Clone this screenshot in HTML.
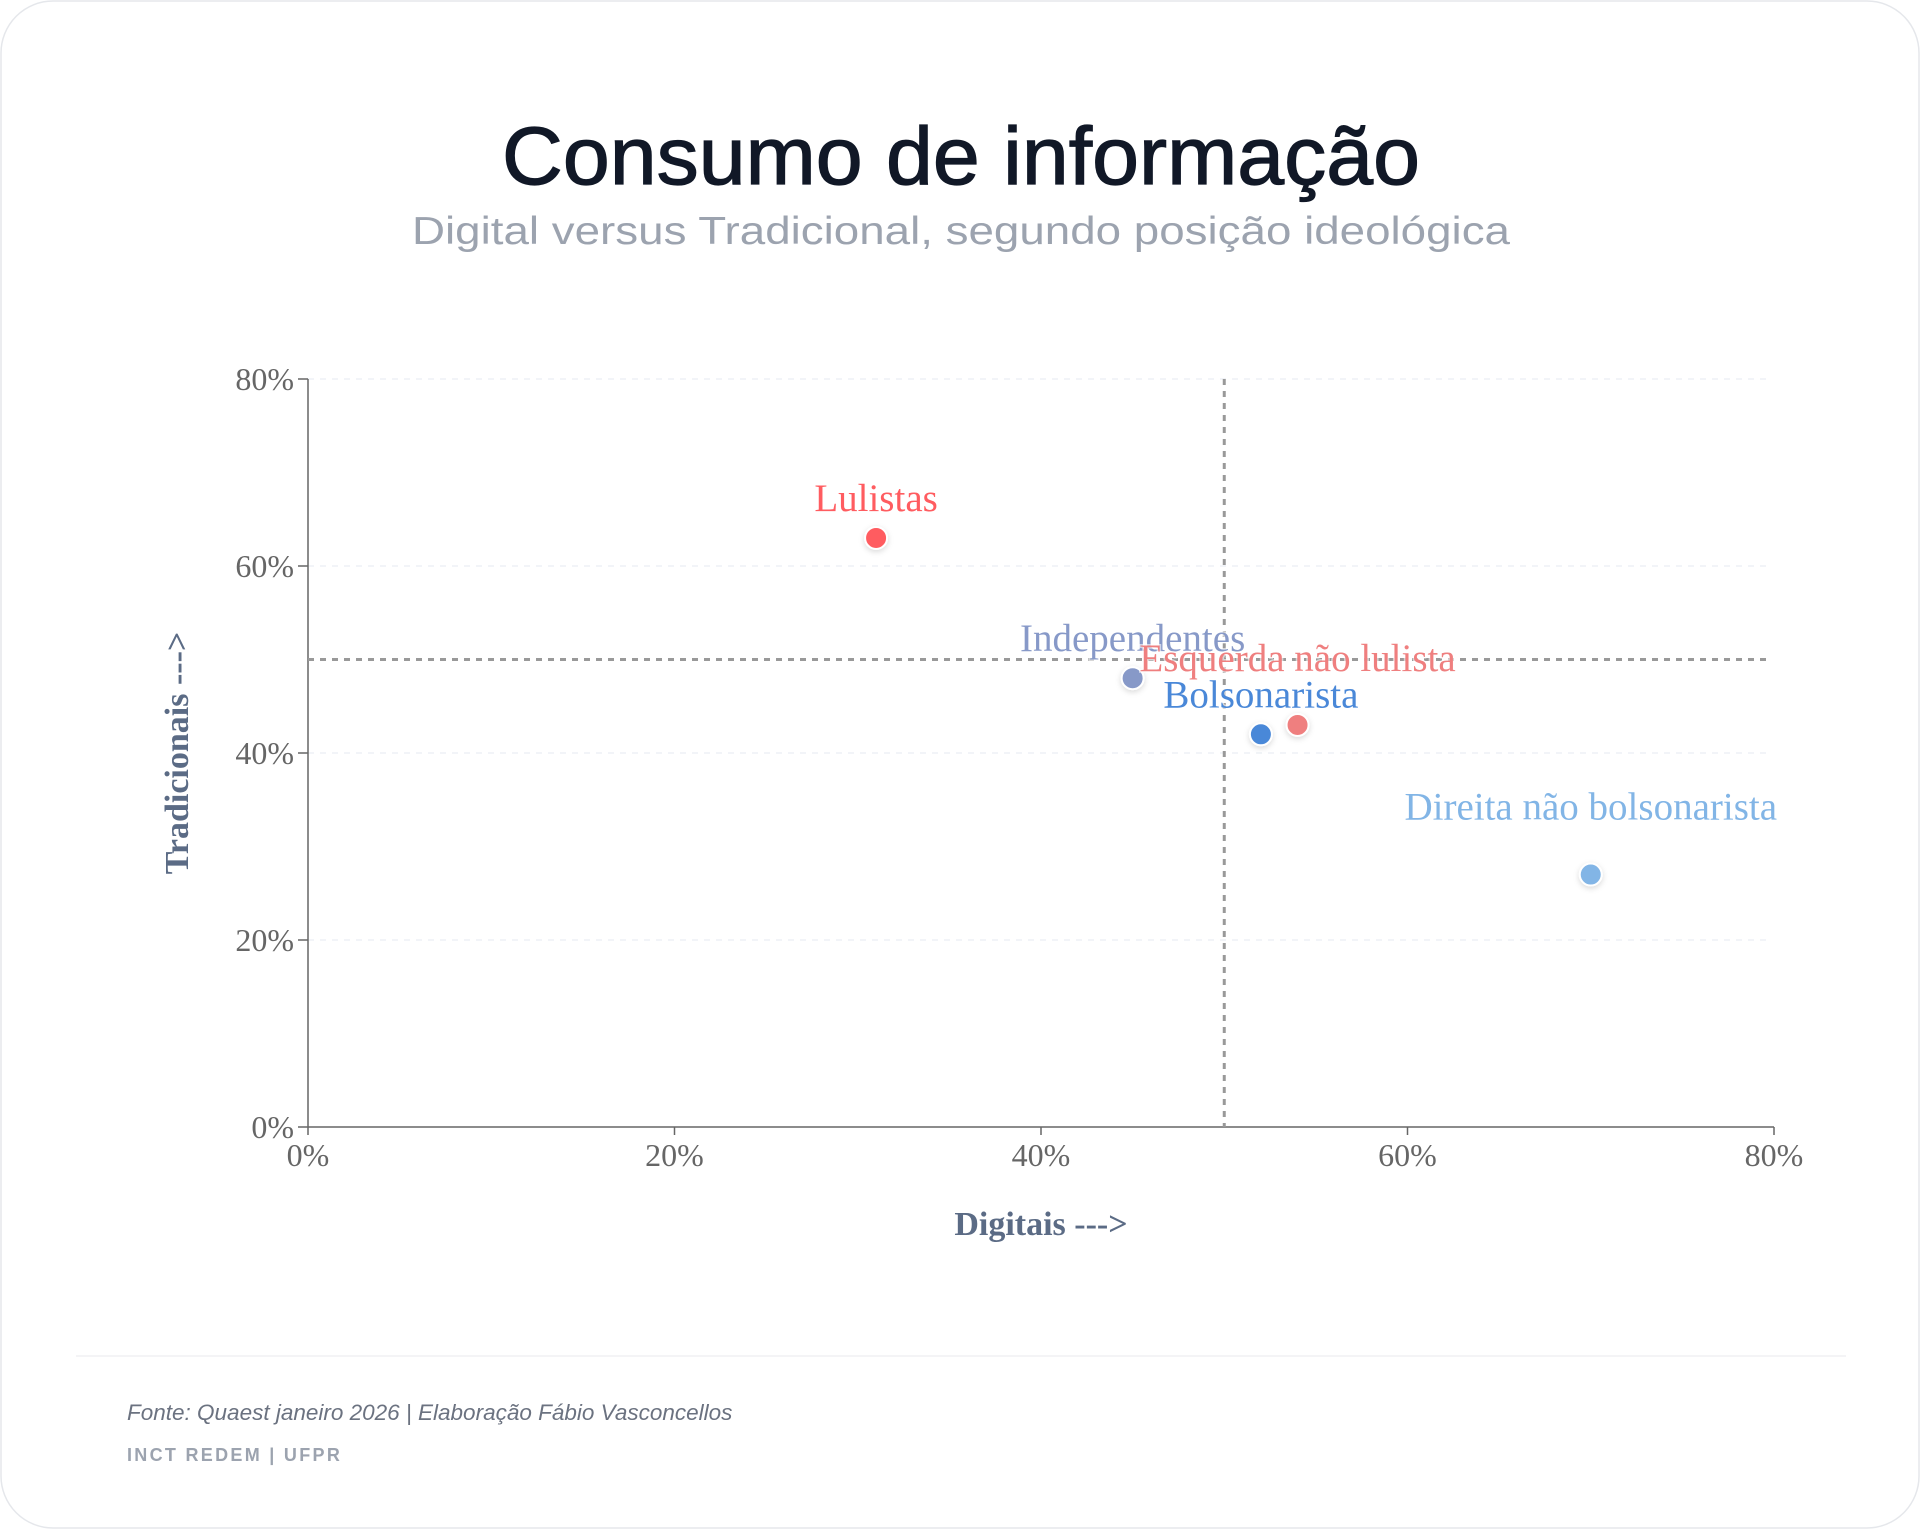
<!DOCTYPE html>
<html><head><meta charset="utf-8">
<style>
html,body{margin:0;padding:0;background:#fff;}
body{width:1920px;height:1529px;overflow:hidden;font-family:"Liberation Sans",sans-serif;}
svg{display:block;}
</style></head>
<body>
<svg id="chart" width="1920" height="1529" viewBox="0 0 1920 1529">
  <defs>
    <filter id="sh" x="-100%" y="-100%" width="300%" height="300%">
      <feDropShadow dx="0" dy="2" stdDeviation="3" flood-color="#000" flood-opacity="0.15"/>
    </filter>
  </defs>
  <rect x="1" y="1" width="1918" height="1527" rx="52" fill="#fff" stroke="#e5e7eb" stroke-width="1.5"/>
  <text x="961" y="184" text-anchor="middle" font-size="82" fill="#111827" textLength="918" lengthAdjust="spacingAndGlyphs" style="stroke:#111827;stroke-width:1.2px">Consumo de informação</text>
  <text x="961" y="244" text-anchor="middle" font-size="39" fill="#9ca3af" textLength="1098" lengthAdjust="spacingAndGlyphs">Digital versus Tradicional, segundo posição ideológica</text>
  <g id="plot"></g>
  <line x1="76" y1="1356" x2="1846" y2="1356" stroke="#f0f1f3" stroke-width="1.5"/>
  <text x="127" y="1420" font-size="22.5" font-style="italic" fill="#6b7280">Fonte: Quaest janeiro 2026 | Elaboração Fábio Vasconcellos</text>
  <text x="127" y="1461" font-size="18" font-weight="bold" fill="#9ca3af" letter-spacing="2.3">INCT REDEM | UFPR</text>
</svg>
<script>
const categories = ["Lulistas","Independentes","Esquerda não lulista","Bolsonarista","Direita não bolsonarista"];
const digitalValues = [31,45,54,52,70];
const traditionalValues = [63,48,43,42,27];
const xTicks = [0,20,40,60,80];
const yTicks = [0,20,40,60,80];
const xTickLabels = ["0%","20%","40%","60%","80%"];
const yTickLabels = ["0%","20%","40%","60%","80%"];
const refX = 50, refY = 50;

const colors = ["#ff5c60","#8799c8","#ef7f7f","#4a88d8","#82b5e6"];
const labelOffsets = [27,27,54,27,55];

const X0=308, X1=1774, Y0=1127, Y1=379;
const xs = v => X0 + (v/80)*(X1-X0);
const ys = v => Y0 - (v/80)*(Y0-Y1);
const NS="http://www.w3.org/2000/svg";
const g=document.getElementById('plot');
function mk(t,a,p){const e=document.createElementNS(NS,t);for(const k in a)e.setAttribute(k,a[k]);(p||g).appendChild(e);return e;}
const serif='"Liberation Serif", serif';

yTicks.forEach((v,i)=>{
  if(v>0){const gl=mk('line',{x1:X0,x2:1772,y1:ys(v),y2:ys(v),stroke:'#eef1f5','stroke-width':1.5,'stroke-dasharray':'6,6'});
  
  }
  const tk=mk('line',{x1:X0-10,x2:X0,y1:ys(v),y2:ys(v),stroke:'#666','stroke-width':1.5});
  
  
  const t=mk('text',{x:X0-14,y:ys(v)+11,'text-anchor':'end','font-size':32,fill:'#666','font-family':serif});
  t.textContent=yTickLabels[i];
  
  
});
xTicks.forEach((v,i)=>{
  const tk=mk('line',{x1:xs(v),x2:xs(v),y1:Y0,y2:Y0+8,stroke:'#666','stroke-width':1.5});
  
  
  const t=mk('text',{x:xs(v),y:Y0+39,'text-anchor':'middle','font-size':32,fill:'#666','font-family':serif});
  t.textContent=xTickLabels[i];
  
  
});
const ax=mk('line',{x1:X0,x2:X0,y1:Y1,y2:Y0,stroke:'#666','stroke-width':1.5});


const ax2=mk('line',{x1:X0,x2:X1,y1:Y0,y2:Y0,stroke:'#666','stroke-width':1.5});



const rv=mk('line',{x1:xs(refX),x2:xs(refX),y1:Y1,y2:Y0,stroke:'#999','stroke-width':3,'stroke-dasharray':'6,6'});


const rh=mk('line',{x1:X0,x2:1772,y1:ys(refY),y2:ys(refY),stroke:'#999','stroke-width':3,'stroke-dasharray':'6,6'});



const xt=mk('text',{x:(X0+X1)/2,y:1235,'text-anchor':'middle','font-size':34,'font-weight':'bold',fill:'#5b6b85','font-family':serif});
xt.textContent='Digitais --->';


const yt=mk('text',{x:0,y:0,'text-anchor':'middle','font-size':34,'font-weight':'bold',fill:'#5b6b85','font-family':serif,transform:`translate(188,${(Y0+Y1)/2}) rotate(-90)`});
yt.textContent='Tradicionais --->';



categories.forEach((c,i)=>{
  const cx=xs(digitalValues[i]), cy=ys(traditionalValues[i]);
  const p=mk('circle',{cx:cx,cy:cy,r:11,fill:colors[i],stroke:'#fff','stroke-width':2,filter:'url(#sh)'});
  
  
});
categories.forEach((c,i)=>{
  const cx=xs(digitalValues[i]), cy=ys(traditionalValues[i]);
  const t=mk('text',{x:cx,y:cy-labelOffsets[i],'text-anchor':'middle','font-size':39,fill:colors[i],'font-family':serif,stroke:'#fff','stroke-width':3,'paint-order':'stroke','stroke-opacity':0.6});
  t.textContent=c;
  
  
});
</script>
</body></html>
